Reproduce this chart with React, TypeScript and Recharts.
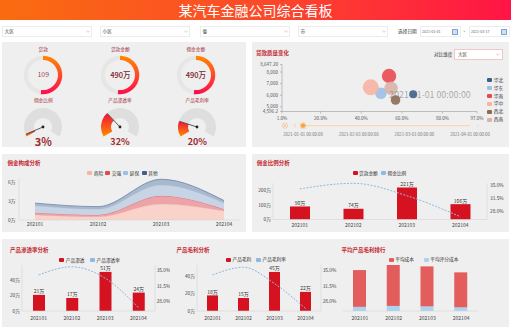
import React from 'react';
import {
  PieChart, Pie, Cell, ScatterChart, Scatter, XAxis, YAxis, ZAxis,
  AreaChart, Area, ComposedChart, Bar, Line, LabelList, BarChart,
} from 'recharts';

const FONT = '"Noto Sans CJK SC", "Noto Sans", sans-serif';

// ---------- data ----------
const pageTitle = '某汽车金融公司综合看板';
const filterLabels = ['大区', '小区', '省', '市'];
const dateLabel = '选择日期';
const dateValues = ['2021-01-01', '2021-03-17'];

const donutTitles = ['贷款', '贷款金额', '佣金金额'];
const donutTexts = ['109', '490万', '490万'];
const donutShares = [52, 52, 52];

const gaugeTitles = ['佣金比例', '产品渗透率', '产品毛利率'];
const gaugeValues = [3, 32, 20];
const gaugeTexts = ['3%', '32%', '20%'];

const bubbleTitle = '贷款质量变化';
const compareLabel = '对比维度';
const compareValue = '大区';
const regionNames = ['华北', '华东', '华南', '华中', '西北', '西南'];
const regionColors = ['#3b5e90', '#9cbfe5', '#e84a51', '#f7b3a3', '#8c6a54', '#d8b3a6'];
const bubbleRate = [65.6, 49.7, 53.7, 44.7, 56.9, 54.7];
const bubbleQuality = [6079, 6165, 7656, 6682, 5587, 6596];
const bubbleSize = [50, 106, 163, 201, 72, 141];
const bubbleXTicks = [1, 20, 40, 60, 80, 97];
const bubbleYTicks = [4596.2, 5000, 6000, 7000, 8000, 8647.2];
const bubbleYTickLabels = ['4,596.2', '5,000', '6,000', '7,000', '8,000', '8,647.20'];
const timelineLabels = ['2021-01-01 00:00:00', '2021-02-01 00:00:00', '2021-03-01 00:00:00', '2021-04-01 00:00:00'];
const currentTime = '2021-01-01 00:00:00';

const months = ['202101', '202102', '202103', '202104'];

const mixTitle = '佣金构成分析';
const mixNames = ['商险', '交强', '延保', '其他'];
const mixColors = ['#f7b3a3', '#e8474f', '#9cbfe5', '#3e5f8f'];
const mixA = [0.8, 0.5, 2.5, 1.4];
const mixB = [0.35, 0.3, 1.3, 0.3];
const mixC = [1.1, 0.9, 1.7, 0.95];
const mixD = [0.4, 0.4, 0.9, 0.4];
const mixTicks = [0, 3, 6];

const rateTicks = [28, 31.5, 35];

const commTitle = '佣金比例分析';
const commNames = ['贷款金额', '佣金比例'];
const commissionAmount = [90, 74, 221, 106];
const commissionRate = [34.0, 35.5, 32.2, 26.6];
const commTicks = [0, 100, 200];

const penTitle = '产品渗透率分析';
const penNames = ['产品渗透', '产品渗透率'];
const penAmount = [21, 17, 51, 24];
const penRate = [33.9, 35.7, 33.2, 26.7];

const marTitle = '产品毛利分析';
const marNames = ['产品毛利', '产品毛利率'];
const marAmount = [18, 15, 45, 22];
const marRate = [33.9, 35.6, 32.0, 26.5];

const amtTicks = [0, 20, 40];

const costTitle = '平均产品毛利排行';
const costNames = ['平均成本', '平均评分成本'];
const avgCost = [40, 44.5, 43.5, 38];
const avgScoreCost = [4.5, 5.5, 5, 4];

// ---------- helpers ----------
const RED_TITLE = '#c3282f';
const BAR_RED = '#d5121f';
const LINE_BLUE = '#8db9e2';

type TxtProps = { x: number; y: number; s?: number; c?: string; w?: number; a?: 'start' | 'middle' | 'end'; children: React.ReactNode };
const Txt = ({ x, y, s = 5, c = '#333', w = 400, a = 'start', children }: TxtProps) => {
  const tx = a === 'middle' ? '-50%' : a === 'end' ? '-100%' : '0';
  return (
    <div style={{ position: 'absolute', left: x, top: y - s / 2, fontSize: s, lineHeight: `${s}px`, color: c, fontWeight: w, whiteSpace: 'nowrap', transform: `translateX(${tx})` }}>
      {children}
    </div>
  );
};

const Panel = ({ x, y, w, h }: { x: number; y: number; w: number; h: number }) => (
  <div style={{ position: 'absolute', left: x, top: y, width: w, height: h, background: '#efefef' }} />
);

const LegendItem = ({ x, y, color, label }: { x: number; y: number; color: string; label: string }) => (
  <>
    <div style={{ position: 'absolute', left: x, top: y - 2, width: 5, height: 4, background: color, borderRadius: 1 }} />
    <Txt x={x + 6.5} y={y} s={4.7} c="#333">{label}</Txt>
  </>
);

const Chevron = ({ x, y, c = '#e2a3a8' }: { x: number; y: number; c?: string }) => (
  <svg style={{ position: 'absolute', left: x - 2, top: y - 1.5 }} width={4} height={3}>
    <polyline points="0.3,0.5 2,2.3 3.7,0.5" fill="none" stroke={c} strokeWidth={0.6} />
  </svg>
);

const CalIcon = ({ x, y }: { x: number; y: number }) => (
  <div style={{ position: 'absolute', left: x, top: y - 2.7, width: 4.4, height: 4.4, border: '0.6px solid #7aa6da', borderTopWidth: 1.3, background: '#cfe0f3' }} />
);

const RAD = Math.PI / 180;
const renderNeedle = (p: any) => {
  if (p.index !== 0) return <g />;
  const { cx, cy, endAngle, outerRadius } = p;
  const len = outerRadius - 0.5;
  const x2 = cx + len * Math.cos(-endAngle * RAD);
  const y2 = cy + len * Math.sin(-endAngle * RAD);
  return (
    <g>
      <line x1={cx} y1={cy} x2={x2} y2={y2} stroke="#333" strokeWidth={0.8} />
      <circle cx={cx} cy={cy} r={1.4} fill="#222" />
    </g>
  );
};

const Donut = ({ i, cx, cy }: { i: number; cx: number; cy: number }) => (
  <div style={{ position: 'absolute', left: cx - 22, top: cy - 22 }}>
    <PieChart width={44} height={44} margin={{ top: 0, right: 0, bottom: 0, left: 0 }}>
      <defs>
        <linearGradient id={`dg${i}`} x1="0" y1="0" x2="0" y2="1">
          <stop offset="0%" stopColor="#ff8a00" />
          <stop offset="100%" stopColor="#ff0a4e" />
        </linearGradient>
      </defs>
      <Pie data={[{ v: donutShares[i] }, { v: 100 - donutShares[i] }]} dataKey="v" cx={22} cy={22}
        innerRadius={15} outerRadius={19.3} startAngle={90} endAngle={-270} stroke="none" isAnimationActive={false}>
        <Cell fill={`url(#dg${i})`} />
        <Cell fill="#e6e6e6" />
      </Pie>
    </PieChart>
  </div>
);

const Gauge = ({ i, cx, cy }: { i: number; cx: number; cy: number }) => (
  <div style={{ position: 'absolute', left: cx - 22, top: cy - 22 }}>
    <PieChart width={44} height={44} margin={{ top: 0, right: 0, bottom: 0, left: 0 }}>
      <defs>
        <linearGradient id={`gg${i}`} x1="0" y1="0" x2="0" y2="1">
          <stop offset="0%" stopColor="#f0103c" />
          <stop offset="100%" stopColor="#ff8c00" />
        </linearGradient>
      </defs>
      <Pie data={[{ v: gaugeValues[i] }, { v: 100 - gaugeValues[i] }]} dataKey="v" cx={22} cy={22}
        innerRadius={9} outerRadius={19} startAngle={210} endAngle={-30} stroke="none"
        label={renderNeedle} labelLine={false} isAnimationActive={false}>
        <Cell fill={`url(#gg${i})`} />
        <Cell fill="#dedede" />
      </Pie>
    </PieChart>
  </div>
);

const faintAxis = { stroke: '#d4d4d4', strokeWidth: 0.6 };
const tickStyle = { fontSize: 4.8, fill: '#444' };

type BLProps = {
  left: number; top: number; width: number; height: number;
  amounts: number[]; rates: number[]; barSize: number;
  leftDomain: [number, number]; leftTicks: number[]; rightDomain: [number, number];
  leftW: number; rightW: number; mt: number; mb: number; xm: number; rm: number;
};
const BarLine = (p: BLProps) => {
  const data = months.map((m, i) => ({ m, amt: p.amounts[i], rate: p.rates[i] }));
  return (
    <div style={{ position: 'absolute', left: p.left, top: p.top }}>
      <ComposedChart width={p.width} height={p.height} data={data} margin={{ top: p.mt, right: 0, bottom: p.mb, left: 0 }}>
        <XAxis dataKey="m" height={10} interval={0} tickSize={2} tickMargin={p.xm} tickLine={false} axisLine={faintAxis} tick={{ fontSize: 5, fill: '#444' }} />
        <YAxis yAxisId="l" width={p.leftW} domain={p.leftDomain} ticks={p.leftTicks} interval={0}
          tickFormatter={(v: number) => `${v}万`} tickSize={1} tickMargin={1} tickLine={false} axisLine={faintAxis} tick={tickStyle} />
        <YAxis yAxisId="r" orientation="right" width={p.rightW} domain={p.rightDomain} ticks={rateTicks} interval={0}
          tickFormatter={(v: number) => `${v.toFixed(1)}%`} tickSize={0} tickMargin={p.rm} tickLine={false} axisLine={faintAxis} tick={tickStyle} />
        <Bar yAxisId="l" dataKey="amt" fill={BAR_RED} barSize={p.barSize} isAnimationActive={false}>
          <LabelList dataKey="amt" position="top" offset={1.5} formatter={(v: any) => `${v}万`} style={{ fontSize: 5, fill: '#333' }} />
        </Bar>
        <Line yAxisId="r" dataKey="rate" type="monotone" stroke={LINE_BLUE} strokeWidth={1} strokeDasharray="2 1.4" dot={false} isAnimationActive={false} />
      </ComposedChart>
    </div>
  );
};

export default function App() {
  const mixData = months.map((m, i) => ({ m, a: mixA[i], b: mixB[i], c: mixC[i], d: mixD[i] }));
  const costData = months.map((m, i) => ({ m, a: avgCost[i], b: avgScoreCost[i] }));
  const donutX = [43.3, 120.3, 195.8];
  const gaugeX = [43.3, 120, 197.3];
  const filterX = [2, 100, 200, 298];

  return (
    <div style={{ position: 'absolute', left: 0, top: 0, width: 511, height: 331, overflow: 'hidden', background: '#fff', fontFamily: FONT }}>
      {/* header */}
      <div style={{ position: 'absolute', left: 0, top: 0, width: 511, height: 20, background: 'linear-gradient(90deg, #f96c10 0%, #fc4a28 50%, #ff1545 100%)' }} />
      <Txt x={255.5} y={9.5} s={14} c="#fff" a="middle">{pageTitle}</Txt>

      {/* filters */}
      {filterLabels.map((f, i) => (
        <React.Fragment key={f}>
          <div style={{ position: 'absolute', left: filterX[i], top: 25.5, width: 90, height: 11, background: '#fff', border: '0.6px solid #ececec', boxSizing: 'border-box' }} />
          <Txt x={filterX[i] + 2.5} y={31.3} s={4.7} c="#333">{f}</Txt>
          <Chevron x={filterX[i] + 86} y={31.3} />
        </React.Fragment>
      ))}
      <Txt x={398} y={31.3} s={4.7} c="#333">{dateLabel}</Txt>
      {dateValues.map((d, i) => (
        <React.Fragment key={d}>
          <div style={{ position: 'absolute', left: i === 0 ? 419.5 : 468.5, top: 25.5, width: 41, height: 11, background: '#fff', border: '0.6px solid #ececec', boxSizing: 'border-box' }} />
          <Txt x={(i === 0 ? 419.5 : 468.5) + 2.5} y={31.3} s={3.6} c="#666">{d}</Txt>
          <CalIcon x={i === 0 ? 452 : 501} y={31.3} />
        </React.Fragment>
      ))}
      <Txt x={464} y={31.3} s={4.5} c="#666" a="middle">~</Txt>

      {/* panels */}
      <Panel x={2} y={42} w={244} h={105} />
      <Panel x={252} y={42} w={257} h={105} />
      <Panel x={2} y={154} w={244} h={78} />
      <Panel x={252} y={154} w={257} h={78} />
      <Panel x={2} y={239} w={507} h={88} />

      {/* donuts */}
      {donutTitles.map((t, i) => (
        <React.Fragment key={t}>
          <Txt x={donutX[i]} y={49.2} s={4.7} c="#a3313a" a="middle">{t}</Txt>
          <Donut i={i} cx={donutX[i]} cy={74.5} />
          <Txt x={donutX[i]} y={74.5} s={i === 0 ? 7 : 7.5} c={i === 0 ? '#a24a4f' : '#7a2226'} w={i === 0 ? 400 : 500} a="middle">{donutTexts[i]}</Txt>
        </React.Fragment>
      ))}
      {/* gauges */}
      {gaugeTitles.map((t, i) => (
        <React.Fragment key={t}>
          <Txt x={gaugeX[i]} y={100.7} s={4.7} c="#a3313a" a="middle">{t}</Txt>
          <Gauge i={i} cx={gaugeX[i]} cy={127.4} />
          <Txt x={gaugeX[i]} y={141.8} s={i === 0 ? 11 : 9} c="#9e2a30" w={700} a="middle">{gaugeTexts[i]}</Txt>
        </React.Fragment>
      ))}

      {/* bubble chart */}
      <Txt x={256} y={53.3} s={5.5} c={RED_TITLE} w={700}>{bubbleTitle}</Txt>
      <Txt x={434} y={54.5} s={4.6} c="#333">{compareLabel}</Txt>
      <div style={{ position: 'absolute', left: 454, top: 49.3, width: 49, height: 10.5, background: '#fff', border: '0.6px solid #f1c6c9', boxSizing: 'border-box' }} />
      <Txt x={458} y={54.5} s={4.6} c="#333">{compareValue}</Txt>
      <Chevron x={497.5} y={54.5} />
      <div style={{ position: 'absolute', left: 252, top: 57 }}>
        <ScatterChart width={257} height={66} margin={{ top: 7.5, right: 32, bottom: 1.5, left: 0 }}>
          <XAxis type="number" dataKey="x" domain={[1, 97]} ticks={bubbleXTicks} interval={0}
            tickFormatter={(v: number) => `${v.toFixed(1)}%`} height={10} tickSize={2} tickMargin={3}
            axisLine={{ stroke: '#9a9a9a', strokeWidth: 0.6 }} tickLine={{ stroke: '#9a9a9a', strokeWidth: 0.6 }} tick={{ fontSize: 4.6, fill: '#555' }} />
          <YAxis type="number" dataKey="y" domain={[4596.2, 8647.2]} ticks={bubbleYTicks} interval={0}
            tickFormatter={(v: number) => bubbleYTickLabels[bubbleYTicks.indexOf(v)] ?? String(v)} width={30} tickSize={2} tickMargin={2}
            axisLine={{ stroke: '#9a9a9a', strokeWidth: 0.6 }} tickLine={{ stroke: '#9a9a9a', strokeWidth: 0.6 }} tick={{ fontSize: 4.6, fill: '#555' }} />
          <ZAxis type="number" dataKey="z" domain={[0, 250]} range={[0, 250]} />
          {regionNames.map((n, i) => (
            <Scatter key={n} name={n} data={[{ x: bubbleRate[i], y: bubbleQuality[i], z: bubbleSize[i] }]}
              fill={regionColors[i]} fillOpacity={0.9} shape="circle" isAnimationActive={false} />
          ))}
        </ScatterChart>
      </div>
      <Txt x={430} y={95} s={8.8} c="rgba(120,120,120,0.6)" a="middle">{currentTime}</Txt>
      {regionNames.map((n, i) => (
        <LegendItem key={n} x={487.3} y={80 + i * 7.94} color={regionColors[i]} label={n} />
      ))}
      {/* timeline */}
      <svg style={{ position: 'absolute', left: 280, top: 120 }} width={202} height={12}>
        <circle cx={5} cy={5.7} r={2.6} fill="none" stroke="#f6b26b" strokeWidth={0.6} />
        <polygon points="4.2,4.5 6.3,5.7 4.2,6.9" fill="#f6b26b" />
        <polyline points="16,3.9 14.2,5.7 16,7.5" fill="none" stroke="#f7c28b" strokeWidth={0.7} />
        <line x1={23} y1={5.7} x2={190} y2={5.7} stroke="#f9d9b3" strokeWidth={1.2} />
        <circle cx={23} cy={5.7} r={3.4} fill="rgba(245,163,58,0.3)" />
        <circle cx={23} cy={5.7} r={2.1} fill="#f5a33a" />
        <polyline points="197,3.9 198.8,5.7 197,7.5" fill="none" stroke="#dadada" strokeWidth={0.7} />
      </svg>
      <div style={{ position: 'absolute', left: 275.2, top: 131.8, width: 222.7, display: 'flex' }}>
        {timelineLabels.map((t) => (
          <div key={t} style={{ flex: 1, textAlign: 'center', fontSize: 4.3, lineHeight: '4.3px', color: '#777', whiteSpace: 'nowrap' }}>{t}</div>
        ))}
      </div>

      {/* area chart */}
      <Txt x={7.5} y={164} s={5.5} c={RED_TITLE} w={700}>{mixTitle}</Txt>
      {mixNames.map((n, i) => (
        <LegendItem key={n} x={[87.3, 105.3, 123.3, 141.7][i]} y={173.3} color={mixColors[i]} label={n} />
      ))}
      <div style={{ position: 'absolute', left: 2, top: 170 }}>
        <AreaChart width={244} height={62} data={mixData} margin={{ top: 8, right: 6, bottom: 2, left: 0 }}>
          <XAxis dataKey="m" height={10} interval={0} padding={{ left: 16, right: 16 }} tickSize={1} tickMargin={1.6}
            tickLine={false} axisLine={faintAxis} tick={{ fontSize: 5, fill: '#444' }} />
          <YAxis width={17} domain={[0, 6.6]} ticks={mixTicks} interval={0} tickFormatter={(v: number) => `${v}万`}
            tickSize={1.5} tickMargin={2} tickLine={false} axisLine={faintAxis} tick={tickStyle} />
          <Area stackId="s" dataKey="a" type="monotone" fill="#f9d3ca" fillOpacity={1} stroke="#f5bcae" strokeWidth={0.6} isAnimationActive={false} />
          <Area stackId="s" dataKey="b" type="monotone" fill="#eca4a8" fillOpacity={1} stroke="#e0646c" strokeWidth={0.7} isAnimationActive={false} />
          <Area stackId="s" dataKey="c" type="monotone" fill="#c6d4e5" fillOpacity={1} stroke="#b3c5dc" strokeWidth={0.6} isAnimationActive={false} />
          <Area stackId="s" dataKey="d" type="monotone" fill="#a8b8cd" fillOpacity={1} stroke="#6a84a8" strokeWidth={0.8} isAnimationActive={false} />
        </AreaChart>
      </div>

      {/* commission bar-line */}
      <Txt x={256.7} y={164} s={5.5} c={RED_TITLE} w={700}>{commTitle}</Txt>
      <LegendItem x={352.5} y={173} color={BAR_RED} label={commNames[0]} />
      <LegendItem x={381} y={173} color={LINE_BLUE} label={commNames[1]} />
      <BarLine left={252} top={176} width={257} height={56} amounts={commissionAmount} rates={commissionRate} barSize={20}
        leftDomain={[0, 250]} leftTicks={commTicks} rightDomain={[25.85, 35]} leftW={21} rightW={22} mt={7.3} mb={2.5} xm={2} rm={3} />

      {/* penetration */}
      <Txt x={10} y={251} s={5.5} c={RED_TITLE} w={700}>{penTitle}</Txt>
      <LegendItem x={59.3} y={260} color={BAR_RED} label={penNames[0]} />
      <LegendItem x={90} y={260} color={LINE_BLUE} label={penNames[1]} />
      <BarLine left={2} top={258} width={168} height={69} amounts={penAmount} rates={penRate} barSize={12}
        leftDomain={[0, 60]} leftTicks={amtTicks} rightDomain={[25.95, 36.1]} leftW={20} rightW={15} mt={7} mb={6} xm={3} rm={1.7} />

      {/* margin */}
      <Txt x={176.5} y={250.5} s={5.5} c={RED_TITLE} w={700}>{marTitle}</Txt>
      <LegendItem x={226} y={259.7} color={BAR_RED} label={marNames[0]} />
      <LegendItem x={256} y={259.7} color={LINE_BLUE} label={marNames[1]} />
      <BarLine left={170} top={258} width={170} height={69} amounts={marAmount} rates={marRate} barSize={11}
        leftDomain={[0, 53]} leftTicks={amtTicks} rightDomain={[25.95, 36.1]} leftW={27} rightW={19} mt={7} mb={6} xm={3} rm={1.7} />

      {/* avg cost stacked */}
      <Txt x={341.5} y={250.5} s={5.5} c={RED_TITLE} w={700}>{costTitle}</Txt>
      <LegendItem x={388.7} y={259.7} color="#e35d5d" label={costNames[0]} />
      <LegendItem x={423.7} y={259.7} color="#a9d3ef" label={costNames[1]} />
      <div style={{ position: 'absolute', left: 340, top: 258 }}>
        <BarChart width={169} height={69} data={costData} margin={{ top: 7, right: 31, bottom: 6, left: 3 }}>
          <XAxis dataKey="m" height={10} interval={0} tickSize={2} tickMargin={3} tickLine={false} axisLine={faintAxis} tick={{ fontSize: 5, fill: '#444' }} />
          <YAxis hide domain={[0, 50]} />
          <Bar dataKey="b" stackId="s" fill="#a9d3ef" barSize={13} isAnimationActive={false} />
          <Bar dataKey="a" stackId="s" fill="#e35d5d" barSize={13} isAnimationActive={false} />
        </BarChart>
      </div>
    </div>
  );
}
